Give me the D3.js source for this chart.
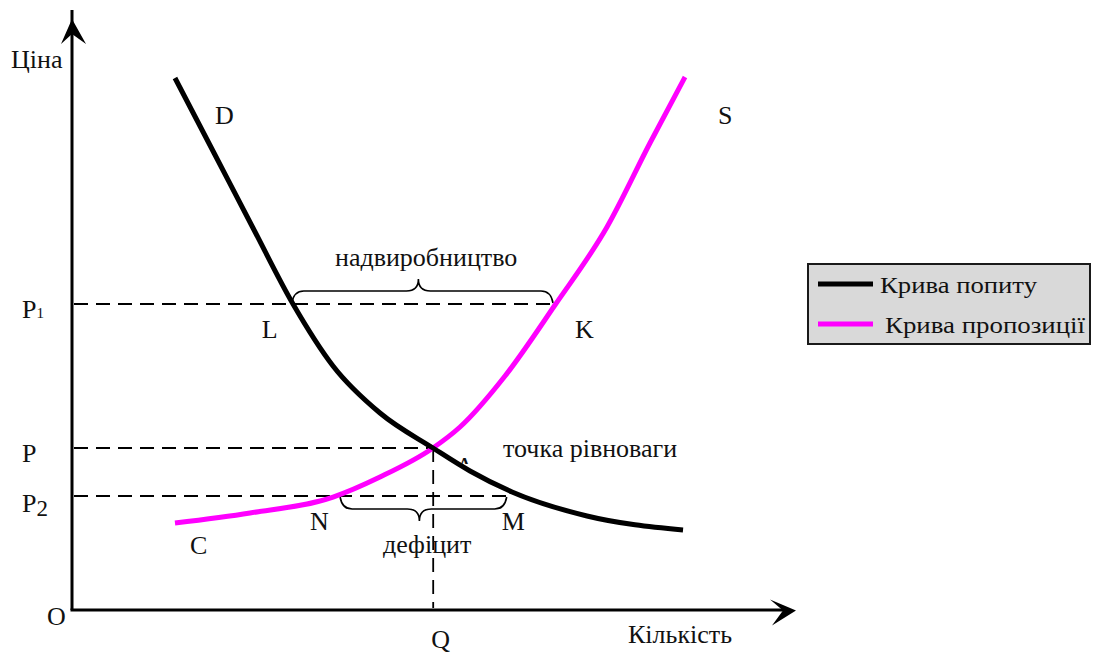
<!DOCTYPE html>
<html lang="uk">
<head>
  <meta charset="UTF-8">
  <title>Попит і пропозиція</title>
  <script src="https://d3js.org/d3.v7.min.js" charset="utf-8"></script>
  <style>
    body { margin: 0; background: #fff; }
    text { font-family: "Liberation Serif", "Times New Roman", serif; fill: #111; }
  </style>
</head>
<body>
<div class="chart"></div>
<script>
  // крива попиту (D) : кількість / ціна
  var demandQ = [14.71, 20.29, 25.86, 31.57, 37.29, 44.0, 51.57, 56.86, 62.86, 73.57, 87.29]
  var demandP = [88.67, 76.17, 63.67, 51.0, 40.67, 32.83, 27.0, 23.17, 19.67, 15.67, 13.33]
  // крива пропозиції (S)
  var supplyQ = [14.71, 25.43, 37.29, 44.0, 51.57, 55.43, 61.86, 69.0, 76.43, 82.57, 87.57]
  var supplyP = [14.5, 16.17, 18.83, 22.17, 27.0, 30.5, 39.0, 50.83, 63.83, 77.83, 88.83]

  // рівні цін та кількостей
  var priceNames = ['P₁', 'P', 'P₂']
  var priceValues = [51, 27, 19]
  var eqQ = 51.6                    // Q
  var surplusQ = [31.4, 69.0]       // L .. K  (надвиробництво)
  var deficitQ = [38.3, 62.1]       // N .. M  (дефіцит)

  var legendNames = ['Крива попиту', 'Крива пропозиції']
  var colors = ['#000000', '#ff00ff']

  var width = 1095
  var height = 655
  var fs = 26

  var svg = d3.select('.chart')
    .append('svg')
    .attr('width', width)
    .attr('height', height)

  var x = d3.scaleLinear().domain([0, 100]).range([72, 772])
  var y = d3.scaleLinear().domain([0, 100]).range([610, 10])

  // осі
  svg.append('line')
    .attr('x1', x(0)).attr('y1', y(0))
    .attr('x2', x(0)).attr('y2', y(100))
    .attr('stroke', '#000').attr('stroke-width', 3)
  svg.append('line')
    .attr('x1', x(0) - 1.5).attr('y1', y(0))
    .attr('x2', 788).attr('y2', y(0))
    .attr('stroke', '#000').attr('stroke-width', 3)

  // стрілки
  var ax = x(0)
  svg.append('path')
    .attr('d', 'M' + ax + ',19 L' + (ax + 14) + ',44 L' + ax + ',34 L' + (ax - 11) + ',44 Z')
    .attr('fill', '#000')
  var ay = y(0) + 0.5
  svg.append('path')
    .attr('d', 'M796,' + ay + ' L770,' + (ay - 11) + ' L783,' + ay + ' L772,' + (ay + 15) + ' Z')
    .attr('fill', '#000')

  // пунктирні лінії
  var dashEnds = [surplusQ[1], eqQ, deficitQ[1]]
  svg.selectAll('.hdash')
    .data(priceValues)
    .enter()
    .append('line')
    .attr('class', 'hdash')
    .attr('x1', x(0) + 2)
    .attr('x2', (d, i) => x(dashEnds[i]))
    .attr('y1', d => y(d))
    .attr('y2', d => y(d))
    .attr('stroke', '#000')
    .attr('stroke-width', 1.8)
    .attr('stroke-dasharray', '14,8')
  svg.append('line')
    .attr('x1', x(eqQ)).attr('x2', x(eqQ))
    .attr('y1', y(priceValues[1])).attr('y2', y(0) - 2)
    .attr('stroke', '#000')
    .attr('stroke-width', 1.8)
    .attr('stroke-dasharray', '14,8')

  // фігурні дужки
  function brace(x1, x2, y0, dir) {
    var mid = (x1 + x2) / 2 - 4
    var y1 = y0 + dir * 12
    var tip = y0 + dir * 24
    var r = 12
    return 'M' + x1 + ',' + y0 +
      ' Q' + (x1 + 2) + ',' + y1 + ' ' + (x1 + r) + ',' + y1 +
      ' L' + (mid - r) + ',' + y1 +
      ' Q' + mid + ',' + y1 + ' ' + mid + ',' + tip +
      ' Q' + mid + ',' + y1 + ' ' + (mid + r) + ',' + y1 +
      ' L' + (x2 - r) + ',' + y1 +
      ' Q' + (x2 - 2) + ',' + y1 + ' ' + x2 + ',' + y0
  }
  svg.append('path')
    .attr('d', brace(x(surplusQ[0]), x(surplusQ[1]) - 2, y(priceValues[0]) - 1, -1))
    .attr('fill', 'none').attr('stroke', '#000').attr('stroke-width', 1.6)
  svg.append('path')
    .attr('d', brace(x(deficitQ[0]), x(deficitQ[1]), y(priceValues[2]) + 1, 1))
    .attr('fill', 'none').attr('stroke', '#000').attr('stroke-width', 1.6)

  // криві
  var line = d3.line()
    .x(d => x(d[0]))
    .y(d => y(d[1]))
    .curve(d3.curveMonotoneX)

  var demand = demandQ.map((q, i) => [q, demandP[i]])
  var supply = supplyQ.map((q, i) => [q, supplyP[i]])

  svg.append('path')
    .datum(supply)
    .attr('d', line)
    .attr('fill', 'none')
    .attr('stroke', colors[1])
    .attr('stroke-width', 5)
  svg.append('path')
    .datum(demand)
    .attr('d', line)
    .attr('fill', 'none')
    .attr('stroke', colors[0])
    .attr('stroke-width', 5)

  // підписи
  function label(tx, ty, str, size) {
    return svg.append('text')
      .attr('x', tx).attr('y', ty)
      .attr('font-size', size || fs)
      .text(str)
  }
  label(11, 68, 'Ціна')
  label(x(demandQ[0]) + 40, y(demandP[0]) + 46, 'D')
  label(x(supplyQ[supplyQ.length - 1]) + 33, y(supplyP[supplyP.length - 1]) + 47, 'S')
  label(x(surplusQ[0]) - 30, y(priceValues[0]) + 34, 'L')
  label(x(surplusQ[1]) + 20, y(priceValues[0]) + 34, 'K')
  label(x(deficitQ[0]) - 30, y(priceValues[2]) + 34, 'N')
  label(x(deficitQ[1]) - 5, y(priceValues[2]) + 34, 'M')
  label(x(supplyQ[0]) + 15, y(supplyP[0]) + 31, 'C')
  label(335, y(priceValues[0]) - 38, 'надвиробництво')
  label(383, y(priceValues[2]) + 57, 'дефіцит')
  label(503, y(priceValues[1]) + 9, 'точка рівноваги')
  label(47, y(0) + 15, 'O')
  label(x(eqQ) - 2, y(0) + 38, 'Q')
  label(628, y(0) + 33, 'Кількість')

  // A (частково прихована)
  svg.append('clipPath').attr('id', 'clipA')
    .append('rect').attr('x', 440).attr('y', 440).attr('width', 60).attr('height', 24)
  label(x(eqQ) + 22, y(priceValues[1]) + 27, 'A').attr('clip-path', 'url(#clipA)')

  // P1, P, P2
  var pl = svg.selectAll('.plabel')
    .data(priceNames)
    .enter()
    .append('text')
    .attr('class', 'plabel')
    .attr('x', 22)
    .attr('y', (d, i) => y(priceValues[i]) + (i === 2 ? 16 : 14))
    .attr('font-size', fs)
  pl.append('tspan').text('P')
  pl.append('tspan')
    .attr('font-size', (d, i) => i === 0 ? 15 : 23)
    .attr('dy', (d, i) => i === 2 ? 4 : 0)
    .text((d, i) => i === 0 ? '1' : (i === 2 ? '2' : ''))

  // легенда
  var lgWidths = [157, 200]
  var lg = svg.append('g').attr('transform', 'translate(808,264)')
  lg.append('rect')
    .attr('width', 282).attr('height', 80)
    .attr('fill', '#d9d9d9')
    .attr('stroke', '#1a1a1a')
    .attr('stroke-width', 2)
  lg.selectAll('.lgline')
    .data(legendNames)
    .enter()
    .append('line')
    .attr('x1', 10).attr('x2', 65)
    .attr('y1', (d, i) => 20 + i * 40)
    .attr('y2', (d, i) => 20 + i * 40)
    .attr('stroke', (d, i) => colors[i])
    .attr('stroke-width', 5)
  lg.selectAll('.lgtext')
    .data(legendNames)
    .enter()
    .append('text')
    .attr('x', (d, i) => 72 + i * 5)
    .attr('y', (d, i) => 29 + i * 40)
    .attr('font-size', 23)
    .attr('textLength', (d, i) => lgWidths[i])
    .attr('lengthAdjust', 'spacingAndGlyphs')
    .text(d => d)
</script>
</body>
</html>
